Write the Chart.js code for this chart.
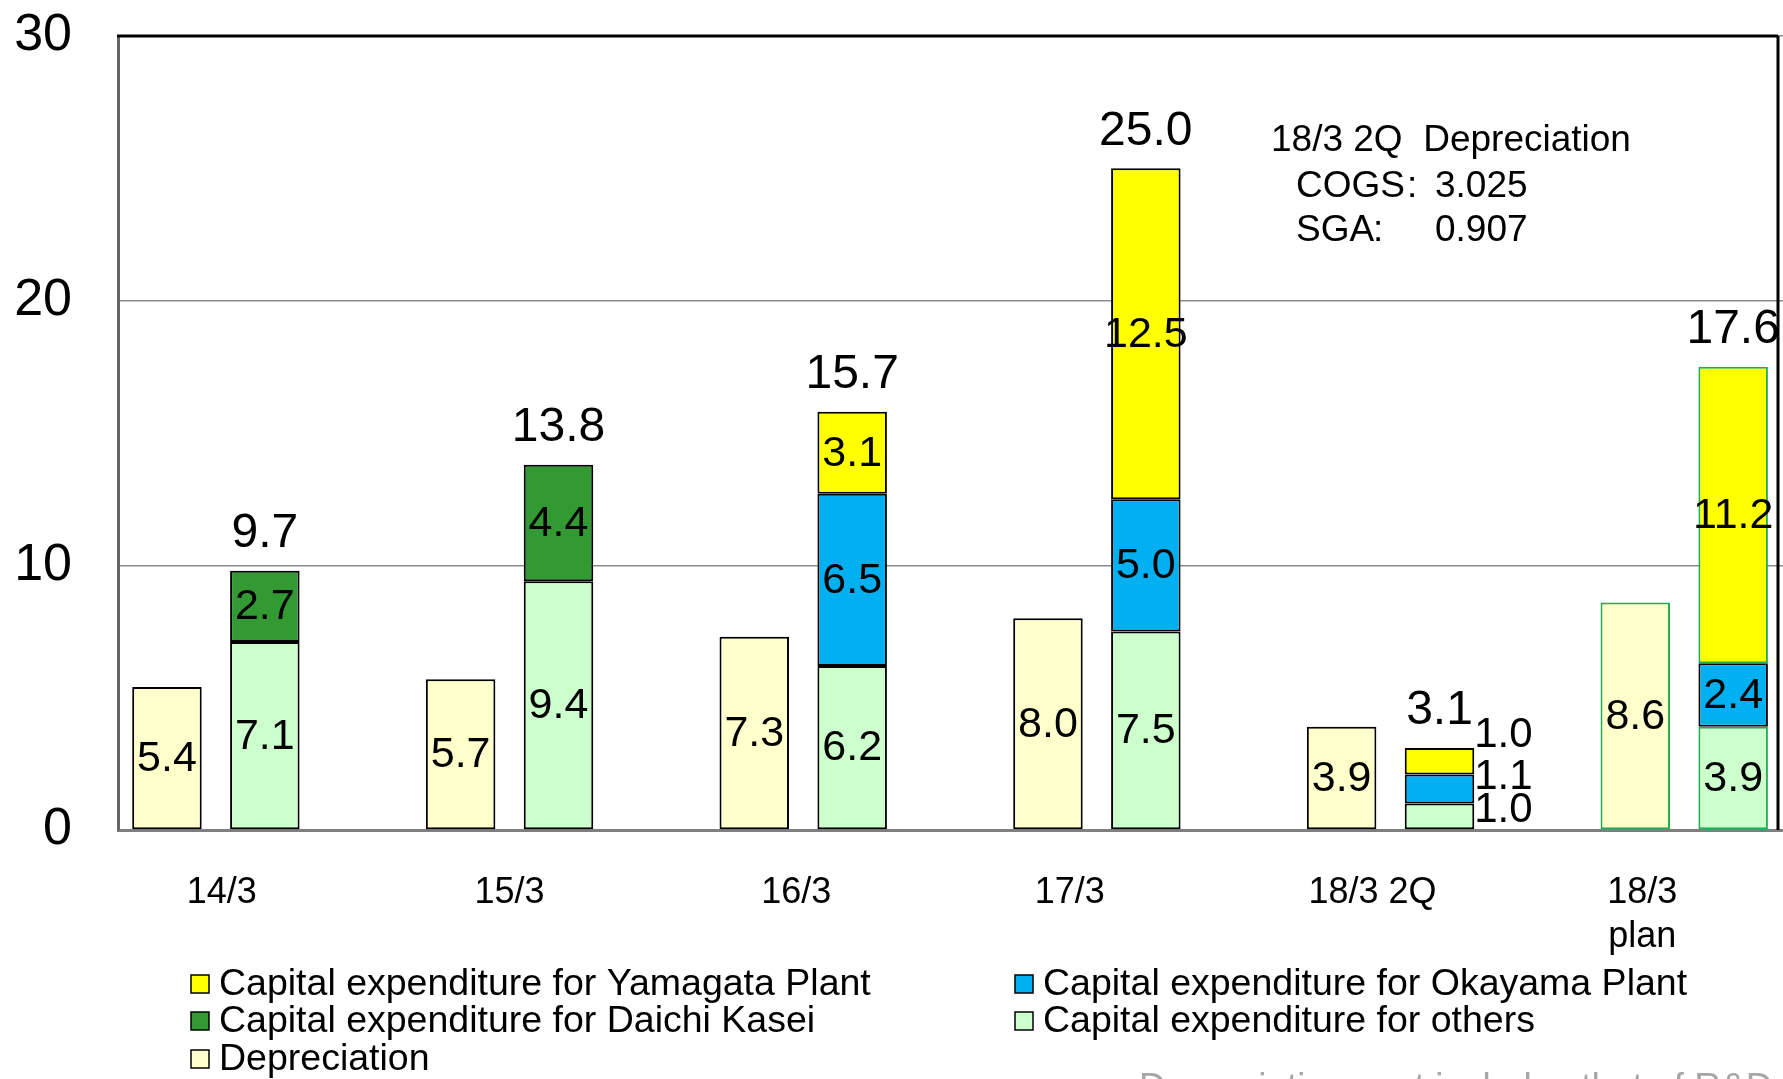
<!DOCTYPE html>
<html><head><meta charset="utf-8">
<script src="https://cdn.jsdelivr.net/npm/chart.js@4"></script>
<style>
html,body{margin:0;padding:0;overflow:hidden;background:#fff;width:1783px;height:1079px}
canvas{display:block}
</style>
</head><body>
<canvas id="c" width="1880" height="1079"></canvas>
<script>
// ---- data ----
const categories = ['14/3', '15/3', '16/3', '17/3', '18/3 2Q', ['18/3', 'plan']];
const depreciation     = [5.4, 5.7, 7.3, 8.0, 3.9, 8.6];
const capexOthers      = [7.1, 9.4, 6.2, 7.5, 1.0, 3.9];
const capexDaichiKasei = [2.7, 4.4, null, null, null, null];
const capexOkayama     = [null, null, 6.5, 5.0, 1.1, 2.4];
const capexYamagata    = [null, null, 3.1, 12.5, 1.0, 11.2];
const capexTotals      = [9.7, 13.8, 15.7, 25.0, 3.1, 17.6];
const yTicks = [0, 10, 20, 30];
const noteTitle = '18/3 2Q  Depreciation';
const noteRows = [['COGS', ':', '3.025'], ['SGA', ':', '0.907']];
const footnote = 'Depreciation cost includes that of R&D';
const legendOrder = ['Capital expenditure for Yamagata Plant', 'Capital expenditure for Okayama Plant',
  'Capital expenditure for Daichi Kasei', 'Capital expenditure for others', 'Depreciation'];

// ---- styles ----
const FONT = "'Liberation Sans', Arial, sans-serif";
const BLACK = '#000000';
const PLAN_GREEN = '#1FAF4F';
const PLAN_INDEX = 5;
const SIDE_INDEX = 4;
const FRAME_RIGHT = 1778;
const catLabelDx = [-43, -49, -56, -76, -67, -91];

function borderFor(greenOnPlan) {
  return c => (greenOnPlan && c.dataIndex === PLAN_INDEX) ? PLAN_GREEN : BLACK;
}

const datasets = [
  {label: 'Depreciation', data: depreciation, stack: 'dep', backgroundColor: '#FFFFCC', borderColor: borderFor(true), key: 'dep'},
  {label: 'Capital expenditure for others', data: capexOthers, stack: 'capex', backgroundColor: '#CCFFCC', borderColor: borderFor(true), key: 'others'},
  {label: 'Capital expenditure for Daichi Kasei', data: capexDaichiKasei, stack: 'capex', backgroundColor: '#339933', borderColor: borderFor(false), key: 'daichi'},
  {label: 'Capital expenditure for Okayama Plant', data: capexOkayama, stack: 'capex', backgroundColor: '#00B0F0', borderColor: borderFor(false), key: 'okayama'},
  {label: 'Capital expenditure for Yamagata Plant', data: capexYamagata, stack: 'capex', backgroundColor: '#FFFF00', borderColor: borderFor(true), key: 'yamagata'},
  {label: '', data: categories.map(() => null), stack: 'pad', backgroundColor: 'rgba(0,0,0,0)', borderColor: 'rgba(0,0,0,0)', key: 'pad'}
];
datasets.forEach(d => { d.borderWidth = 2; d.borderSkipped = false; d.barPercentage = 0.71; d.categoryPercentage = 1.0; });

const sideDy = {others: -6, okayama: -12, yamagata: -26};

const labelsPlugin = {
  id: 'labels',
  afterDatasetsDraw(chart) {
    const ctx = chart.ctx;
    const y = chart.scales.y;
    const x = chart.scales.x;
    ctx.save();
    ctx.fillStyle = '#000';
    chart.data.datasets.forEach((ds, di) => {
      if (ds.key === 'pad') return;
      const meta = chart.getDatasetMeta(di);
      meta.data.forEach((bar, i) => {
        const v = ds.data[i];
        if (v == null) return;
        const txt = v.toFixed(1);
        if (i === SIDE_INDEX && ds.stack === 'capex') {
          ctx.font = '42px ' + FONT;
          ctx.textAlign = 'left';
          ctx.textBaseline = 'middle';
          ctx.fillText(txt, bar.x + bar.width / 2, (bar.y + bar.base) / 2 + (sideDy[ds.key] || 0));
        } else {
          ctx.font = '43px ' + FONT;
          ctx.textAlign = 'center';
          ctx.textBaseline = 'middle';
          ctx.fillText(txt, bar.x, (bar.y + bar.base) / 2 + 1);
        }
      });
    });
    // totals above capex stacks
    const othersMeta = chart.getDatasetMeta(1);
    ctx.font = '48px ' + FONT;
    ctx.textAlign = 'center';
    ctx.textBaseline = 'middle';
    capexTotals.forEach((t, i) => {
      let sum = 0;
      chart.data.datasets.forEach(ds => { if (ds.stack === 'capex' && ds.data[i] != null) sum += ds.data[i]; });
      const top = y.getPixelForValue(sum);
      ctx.fillText(t.toFixed(1), othersMeta.data[i].x, top - 37);
    });
    // category labels
    ctx.font = '36px ' + FONT;
    ctx.textAlign = 'center';
    ctx.textBaseline = 'middle';
    categories.forEach((c, i) => {
      const lines = Array.isArray(c) ? c : [c];
      const cx = x.getPixelForValue(i) + catLabelDx[i];
      lines.forEach((ln, k) => ctx.fillText(ln, cx, x.top + 63 + k * 44));
    });
    ctx.restore();
  }
};

const framePlugin = {
  id: 'frame',
  afterDraw(chart) {
    const ctx = chart.ctx;
    const a = chart.chartArea;
    ctx.save();
    ctx.strokeStyle = '#000';
    ctx.lineWidth = 3;
    ctx.beginPath();
    ctx.moveTo(a.left - 1, a.top);
    ctx.lineTo(FRAME_RIGHT, a.top);
    ctx.moveTo(FRAME_RIGHT, a.top);
    ctx.lineTo(FRAME_RIGHT, a.bottom);
    ctx.stroke();

    // note text
    ctx.fillStyle = '#000';
    ctx.textBaseline = 'alphabetic';
    ctx.textAlign = 'left';
    ctx.font = '37px ' + FONT;
    ctx.fillText(noteTitle, 1271, 151);
    const rowY = [197, 241];
    const colX = [[1296, 1407, 1435], [1296, 1373, 1435]];
    noteRows.forEach((r, k) => {
      r.forEach((s, j) => ctx.fillText(s, colX[k][j], rowY[k]));
    });

    // legend
    const pos = [[191, 984], [1015, 984], [191, 1021], [1015, 1021], [191, 1059]];
    ctx.font = '37.5px ' + FONT;
    ctx.textBaseline = 'middle';
    legendOrder.forEach((lab, k) => {
      const ds = chart.data.datasets.find(d => d.label === lab);
      const [px, py] = pos[k];
      ctx.fillStyle = ds.backgroundColor;
      ctx.fillRect(px, py - 9, 18, 18);
      ctx.strokeStyle = '#000';
      ctx.lineWidth = 1.5;
      ctx.strokeRect(px, py - 9, 18, 18);
      ctx.fillStyle = '#000';
      ctx.fillText(lab, px + 28, py + 1);
    });

    // footnote (cut by the page bottom)
    ctx.fillStyle = '#A6A6A6';
    ctx.textBaseline = 'alphabetic';
    ctx.font = '37px ' + FONT;
    ctx.fillText(footnote, 1139, 1099);
    ctx.restore();
  }
};

new Chart(document.getElementById('c'), {
  type: 'bar',
  data: {labels: categories, datasets},
  options: {
    responsive: false,
    animation: false,
    events: [],
    layout: {padding: {top: 36, left: 0, right: 0, bottom: 0}},
    plugins: {legend: {display: false}, tooltip: {enabled: false}},
    scales: {
      x: {
        stacked: true,
        offset: true,
        grid: {display: false, drawTicks: false},
        border: {display: true, color: '#7F7F7F', width: 3},
        ticks: {display: false},
        afterFit(s) { s.height = 249; s.paddingLeft = 0; s.paddingRight = 0; }
      },
      y: {
        stacked: true,
        min: 0, max: 30,
        afterBuildTicks(s) { s.ticks = yTicks.map(v => ({value: v})); },
        grid: {color: '#8C8C8C', lineWidth: 1.5, drawTicks: false},
        border: {display: true, color: '#666666', width: 3},
        ticks: {color: '#000', font: {family: FONT, size: 52}, padding: 46},
        afterFit(s) { s.width = 118; s.paddingTop = 0; s.paddingBottom = 0; }
      }
    }
  },
  plugins: [labelsPlugin, framePlugin]
});
</script>
</body></html>
